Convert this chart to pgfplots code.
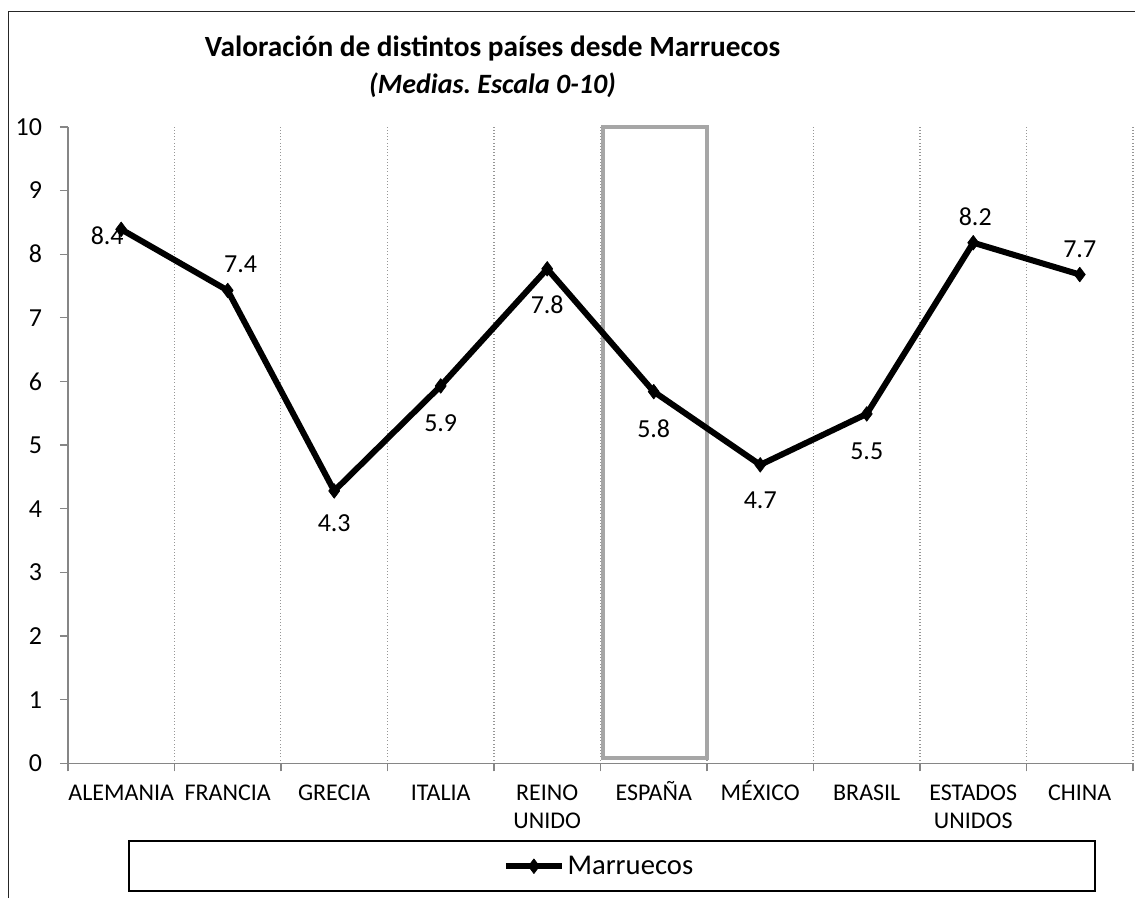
\documentclass[border=0pt]{standalone}
\usepackage{fontspec}
\setmainfont{Carlito}
\usepackage{pgfplots}
\pgfplotsset{compat=1.18}
\usepackage{pgfplotstable}
\frenchspacing

\definecolor{axgray}{RGB}{134,134,134}
\definecolor{gridgray}{RGB}{150,150,150}
\definecolor{boxgray}{RGB}{166,166,166}

% strut so accented and plain labels share one top line
\newcommand\xl{\rule{0pt}{16pt}}

% x = category index, dx/dy = label offset in pt
\pgfplotstableread{
x y lab dx dy
0 8.39 8.4 -10.5 -4.5
1 7.43 7.4 9.75 19.5
2 4.28 4.3 0 -24
3 5.93 5.9 0 -27.75
4 7.77 7.8 0 -27
5 5.84 5.8 0 -27.75
6 4.69 4.7 0 -26.25
7 5.49 5.5 0 -27.75
8 8.18 8.2 1.5 19.5
9 7.68 7.7 0 19
}\datatable

\begin{document}
\begin{tikzpicture}
\fill[white] (0,0) rectangle (852pt,-674.25pt);
\useasboundingbox (0,0) rectangle (852pt,-674.25pt);

% outer chart frame (left and top edges visible)
\draw[line width=0.75pt, black!85] (6.4pt,-674.25pt) -- (6.4pt,-8.6pt) -- (852pt,-8.6pt);

% title
\node[anchor=base, font=\fontsize{22}{26}\selectfont\bfseries] at (369.75pt,-42.75pt)
  {Valoración de distintos países desde Marruecos};
\node[anchor=base, font=\fontsize{21}{25}\selectfont\bfseries\itshape] at (369.75pt,-70.5pt)
  {(Medias. Escala 0-10)};

\begin{axis}[
    at={(51pt,-573pt)}, anchor=south west,
    scale only axis,
    width=799.5pt, height=477.75pt,
    xmin=-0.5, xmax=9.5,
    ymin=0, ymax=10,
    clip=false,
    axis x line*=bottom, axis y line*=left,
    axis line style={draw=axgray, line width=1pt},
    ytick={0,...,10},
    xtick={0,...,9},
    xticklabels={\xl ALEMANIA,\xl FRANCIA,\xl GRECIA,\xl ITALIA,{\xl REINO\\UNIDO},\xl ESPAÑA,\xl MÉXICO,\xl BRASIL,{\xl ESTADOS\\UNIDOS},\xl CHINA},
    minor xtick={-0.5,0.5,...,9.5},
    xminorgrids=true,
    minor x grid style={draw=gridgray, dotted, line width=0.8pt},
    tick align=outside,
    major tick length=6pt, minor tick length=6pt,
    tick style={draw=axgray, line width=1pt},
    major x tick style={draw=none},
    /pgf/number format/assume math mode=true,
    yticklabel style={font=\fontsize{19.5}{23}\selectfont, xshift=-10pt},
    xticklabel style={font=\fontsize{18}{21}\selectfont, align=center, anchor=north,
        inner ysep=0pt, yshift=-6pt},
    legend style={at={(0.499,-0.1617)}, anchor=center, draw=none, fill=none,
        font=\fontsize{21.5}{24}\selectfont},
    legend image code/.code={
        \draw[mark repeat=2, mark phase=2, #1] plot coordinates {(0pt,0pt) (21pt,0pt) (42pt,0pt)};
    },
]
% highlight box around ESPAÑA
\draw[boxgray, line width=3pt] (axis cs:4.52,0.09) rectangle (axis cs:5.5,10);

\addplot[black, line width=4.5pt, line join=round,
    mark=diamond*, mark size=5.5pt, mark options={solid, line width=0.5pt},
    nodes near coords, point meta=explicit symbolic,
    visualization depends on={\thisrow{dx} \as \dx},
    visualization depends on={\thisrow{dy} \as \dy},
    nodes near coords style={anchor=center, xshift=\dx pt, yshift=\dy pt,
        font=\fontsize{19.5}{23}\selectfont, text=black}
] table[x=x, y=y, meta=lab] {\datatable};
\addlegendentry{Marruecos}
\end{axis}

% legend frame
\draw[line width=1.5pt] (96.75pt,-631.5pt) rectangle (822pt,-669pt);
\end{tikzpicture}
\end{document}
